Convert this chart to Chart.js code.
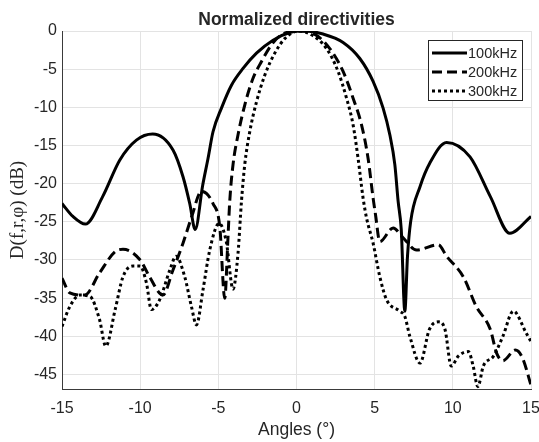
<!DOCTYPE html>
<html>
<head>
<meta charset="utf-8">
<script src="https://cdn.jsdelivr.net/npm/chart.js@4.4.0/dist/chart.umd.min.js"></script>
<style>
  body { margin: 0; background: #fff; }
  canvas { display: block; }
</style>
</head>
<body>
<canvas id="chart" width="539" height="442"></canvas>
<script>
// values
var seriesLabels = ["100kHz", "200kHz", "300kHz"]

var angles100 = [-15, -14.3, -13.5, -12.4, -11.3, -10.24, -9.2, -7.9, -7.26, -6.83, -6.48, -6.0, -5.66, -5.34, -4.8, -4.16, -3.42, -2.56, -1.5, -0.43, 0.5, 1.7, 2.98, 4.05, 4.9, 5.54, 5.97, 6.29, 6.5, 6.7, 6.93, 7.1, 7.3, 7.9, 8.53, 9.6, 11.1, 12.4, 13.65, 15]
var dir100 = [-22.6, -24.3, -25.3, -21.7, -16.9, -14.3, -13.5, -15.6, -19.1, -22.6, -26.0, -20.2, -16.7, -13.2, -10.1, -7.1, -4.9, -2.9, -1.2, -0.2, 0, -0.4, -1.5, -3.6, -6.6, -10.1, -13.6, -17.5, -22.3, -26.0, -36.7, -29.5, -25.0, -20.4, -17.3, -14.6, -16.5, -21.7, -26.5, -24.3]

var angles200 = [-15, -14.5, -13.55, -12.6, -11.6, -11.1, -10, -9.4, -8.55, -7.9, -7.26, -6.7, -6.08, -5.34, -4.91, -4.59, -4.38, -4.27, -4.06, -3.74, -3.31, -2.78, -2.24, -1.6, -0.96, 0.15, 1.06, 2.13, 2.98, 3.62, 4.16, 4.58, 4.9, 5.05, 5.33, 6.18, 6.82, 7.68, 9.07, 9.6, 10.67, 11.5, 12.4, 12.8, 13.2, 14.0, 14.45, 15]
var dir200 = [-32.4, -34.3, -34.6, -31.7, -28.9, -28.6, -30.0, -32.2, -34.6, -31.3, -27.8, -24.3, -21.0, -22.6, -25.6, -35.0, -26.9, -22.3, -17.5, -13.6, -9.7, -6.2, -4.0, -1.8, -0.5, 0, -0.3, -2.3, -5.3, -8.8, -12.3, -16.7, -21.9, -24.0, -27.6, -25.8, -27.1, -28.7, -28.0, -29.5, -32.2, -36.1, -39.1, -42.2, -43.2, -41.8, -42.8, -46.4]

var angles300 = [-15, -14.5, -13.87, -13.2, -12.6, -12.2, -11.6, -11.1, -10.46, -10.0, -9.6, -9.28, -8.75, -8.1, -7.7, -7.15, -6.72, -6.4, -5.98, -5.55, -4.95, -4.5, -4.06, -3.74, -3.52, -3.31, -2.99, -2.56, -2.03, -1.39, -0.75, 0.15, 0.96, 1.92, 2.66, 3.2, 3.62, 3.94, 4.26, 4.48, 4.9, 5.33, 5.76, 6.6, 6.93, 7.25, 7.9, 8.5, 9.07, 9.5, 9.9, 10.35, 11.0, 11.3, 11.6, 11.95, 12.6, 13.2, 13.87, 14.7, 15]
var dir300 = [-38.7, -36.1, -34.6, -34.8, -37.8, -41.3, -36.5, -32.2, -30.8, -30.8, -33.0, -36.5, -35.2, -31.3, -29.5, -32.2, -36.1, -38.5, -33.9, -28.7, -25.2, -27.5, -33.8, -29.1, -22.3, -17.5, -13.2, -9.3, -5.8, -2.9, -1.0, 0, -0.5, -2.3, -5.3, -8.8, -12.3, -16.7, -21.9, -24.5, -27.8, -32.2, -35.2, -36.7, -37.4, -40.0, -43.5, -39.1, -38.1, -39.1, -43.9, -42.6, -42.0, -43.9, -46.6, -43.9, -42.6, -40.0, -36.7, -39.6, -40.7]

var xTicks = [-15, -10, -5, 0, 5, 10, 15]
var yTicks = [-45, -40, -35, -30, -25, -20, -15, -10, -5, 0]

function pairs(xs, ys) {
  var out = []
  for (var i = 0; i < xs.length; i++) out.push({x: xs[i], y: ys[i]})
  return out
}

var textColor = "#262626"
var sans = '"Liberation Sans", Arial, sans-serif'

// title, axis labels and the legend box drawn on top of the chart
var decorations = {
  id: "decorations",
  afterDraw: function (chart) {
    var ctx = chart.ctx
    var area = chart.chartArea
    var cx = (area.left + area.right) / 2
    ctx.save()
    ctx.fillStyle = textColor
    ctx.textAlign = "center"
    ctx.textBaseline = "alphabetic"
    ctx.font = "bold 17.5px " + sans
    ctx.fillText("Normalized directivities", cx, 25)
    ctx.font = "17.5px " + sans
    ctx.fillText("Angles (\u00b0)", cx, 435)

    ctx.save()
    ctx.translate(23, (area.top + area.bottom) / 2)
    ctx.rotate(-Math.PI / 2)
    ctx.font = '19px "Liberation Serif", serif'
    ctx.fillText("D(f,r,\u03c6) (dB)", 0, 0)
    ctx.restore()

    // legend
    var bx = 428.5, by = 40.5, bw = 94, bh = 60
    ctx.fillStyle = "#fff"
    ctx.fillRect(bx, by, bw, bh)
    ctx.strokeStyle = textColor
    ctx.lineWidth = 1
    ctx.strokeRect(bx, by, bw, bh)
    ctx.font = "14.5px " + sans
    ctx.textAlign = "left"
    ctx.textBaseline = "middle"
    chart.data.datasets.forEach(function (ds, i) {
      var y = 53 + i * 19
      ctx.save()
      ctx.strokeStyle = ds.borderColor
      ctx.lineWidth = ds.borderWidth
      ctx.lineCap = "butt"
      ctx.setLineDash(ds.borderDash || [])
      ctx.beginPath()
      ctx.moveTo(432, y)
      ctx.lineTo(467, y)
      ctx.stroke()
      ctx.restore()
      ctx.fillStyle = textColor
      ctx.fillText(ds.label, 468, y + 1)
    })
    ctx.restore()
  }
}

new Chart(document.getElementById("chart"), {
  type: "scatter",
  data: {
    datasets: [
      {label: seriesLabels[0], data: pairs(angles100, dir100), borderDash: []},
      {label: seriesLabels[1], data: pairs(angles200, dir200), borderDash: [10, 5]},
      {label: seriesLabels[2], data: pairs(angles300, dir300), borderDash: [3, 3]}
    ].map(function (d) {
      d.showLine = true
      d.borderColor = "#000"
      d.backgroundColor = "#000"
      d.borderWidth = 3
      d.pointRadius = 0
      d.borderCapStyle = "butt"
      d.cubicInterpolationMode = "monotone"
      return d
    })
  },
  options: {
    responsive: false,
    animation: false,
    devicePixelRatio: 1,
    layout: {padding: {left: 0, top: 31, right: 8, bottom: 0}},
    plugins: {legend: {display: false}, tooltip: {enabled: false}, title: {display: false}},
    scales: {
      x: {
        type: "linear",
        min: -15,
        max: 15,
        afterFit: function (s) { s.height = 53; s.paddingLeft = 0; s.paddingRight = 0 },
        afterBuildTicks: function (s) { s.ticks = xTicks.map(function (v) { return {value: v} }) },
        grid: {color: "#e3e3e3", lineWidth: 1, tickLength: 0},
        border: {display: true, color: "#3a3a3a", width: 1},
        ticks: {color: textColor, font: {family: sans, size: 16}, padding: 10, maxRotation: 0}
      },
      y: {
        type: "linear",
        min: -46.9,
        max: 0,
        afterFit: function (s) { s.width = 62; s.paddingTop = 0; s.paddingBottom = 0 },
        afterBuildTicks: function (s) { s.ticks = yTicks.map(function (v) { return {value: v} }) },
        grid: {color: "#e3e3e3", lineWidth: 1, tickLength: 0},
        border: {display: true, color: "#3a3a3a", width: 1},
        ticks: {color: textColor, font: {family: sans, size: 16}, padding: 5}
      }
    }
  },
  plugins: [decorations]
})
</script>
</body>
</html>
